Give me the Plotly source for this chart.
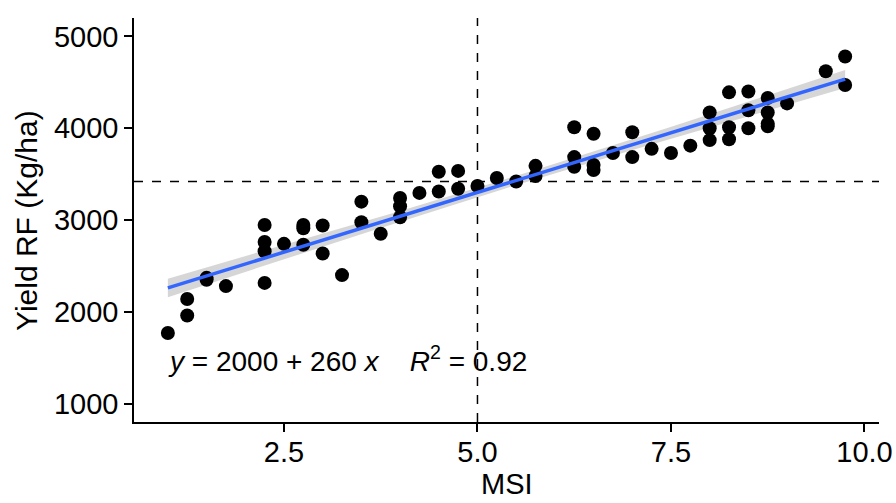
import numpy as np
import plotly.graph_objects as go

# MSI score and rain-fed yield (Kg/ha) per genotype
msi = [1, 1.25, 1.25, 1.5, 1.5, 1.75,
       2.25, 2.25, 2.25, 2.25, 2.5, 2.75, 2.75, 2.75, 3, 3, 3.25,
       3.5, 3.5, 3.75, 4, 4, 4, 4.25, 4.5, 4.5, 4.75, 4.75,
       5, 5.25, 5.5, 5.75, 5.75, 6.25, 6.25, 6.25, 6.5, 6.5, 6.5,
       6.75, 7, 7, 7.25, 7.5, 7.75, 8, 8, 8, 8.25, 8.25, 8.25,
       8.5, 8.5, 8.5, 8.75, 8.75, 8.75, 8.75, 9, 9.5, 9.75, 9.75]
yield_rf = [1770, 2140, 1960, 2370, 2350, 2280,
            2946, 2760, 2660, 2315, 2740, 2946, 2910, 2730, 2940, 2635, 2400,
            3200, 2975, 2850, 3240, 3150, 3030, 3295, 3525, 3310, 3535, 3340,
            3370, 3457, 3420, 3590, 3480, 4010, 3685, 3580, 3940, 3600, 3545,
            3730, 3955, 3685, 3775, 3730, 3810, 4170, 4000, 3870, 4390, 4010, 3880,
            4400, 4195, 4000, 4330, 4170, 4050, 4020, 4270, 4620, 4780, 4470]

# Fitted linear model as reported in the equation label
intercept = 2000
slope = 260
r_squared = 0.92

# Reference lines: MSI threshold and mean yield
msi_ref = 5.0
yield_ref = 3420

x = np.array(msi, dtype=float)
y = np.array(yield_rf, dtype=float)
n = len(x)

# 95% confidence band around the regression line
xs = np.linspace(x.min(), x.max(), 80)
ys = intercept + slope * xs
resid = y - (intercept + slope * x)
s = np.sqrt(np.sum(resid ** 2) / (n - 2))
sxx = np.sum((x - x.mean()) ** 2)
se = s * np.sqrt(1.0 / n + (xs - x.mean()) ** 2 / sxx)
t_crit = 2.0
upper = ys + t_crit * se
lower = ys - t_crit * se

FONT = "Liberation Sans, Arial, sans-serif"

fig = go.Figure()

fig.add_trace(go.Scatter(
    x=np.concatenate([xs, xs[::-1]]),
    y=np.concatenate([upper, lower[::-1]]),
    fill="toself", fillcolor="rgba(153,153,153,0.4)",
    line=dict(width=0), hoverinfo="skip", showlegend=False,
))

fig.add_trace(go.Scatter(
    x=msi, y=yield_rf, mode="markers",
    marker=dict(color="black", size=14),
    showlegend=False,
))

fig.add_trace(go.Scatter(
    x=xs, y=ys, mode="lines",
    line=dict(color="#3366FF", width=3.5),
    showlegend=False,
))

dash_line = dict(color="black", width=1.5, dash="dash")
fig.add_shape(type="line", xref="x", yref="paper", x0=msi_ref, x1=msi_ref,
              y0=0, y1=1, line=dash_line, layer="below")
fig.add_shape(type="line", xref="paper", yref="y", x0=0, x1=1,
              y0=yield_ref, y1=yield_ref, line=dash_line, layer="below")

# Regression equation and fit quality
fig.add_annotation(
    x=0.043, y=0.155, xref="paper", yref="paper",
    xanchor="left", yanchor="middle", showarrow=False,
    text=(f"<i>y</i> = {intercept} + {slope} <i>x</i>&nbsp;&nbsp;&nbsp;&nbsp;"
          f"<i>R</i><sup>2</sup> = {r_squared:.2f}"),
    font=dict(family=FONT, size=28, color="black"),
)

# Axis titles
fig.add_annotation(
    x=0.5, y=-0.198, xref="paper", yref="paper",
    xanchor="center", yanchor="bottom", showarrow=False,
    text="MSI", font=dict(family=FONT, size=29, color="black"),
)
fig.add_annotation(
    x=-0.145, y=0.5, xref="paper", yref="paper",
    xanchor="center", yanchor="middle", showarrow=False, textangle=-90,
    text="Yield RF (Kg/ha)", font=dict(family=FONT, size=30, color="black"),
)

axis_common = dict(
    showline=True, linecolor="black", linewidth=1.5,
    ticks="outside", ticklen=8, tickwidth=1.5, tickcolor="black",
    showgrid=False, zeroline=False, automargin=False,
    tickfont=dict(family=FONT, size=29, color="black"),
)

fig.update_layout(
    width=896, height=503,
    margin=dict(l=134, r=17, t=18, b=81),
    paper_bgcolor="white", plot_bgcolor="white",
    font=dict(family=FONT, color="black"),
    xaxis=dict(
        range=[0.5625, 10.1875],
        tickvals=[2.5, 5.0, 7.5, 10.0],
        ticktext=["2.5", "5.0", "7.5", "10.0"],
        ticklabelstandoff=-5,
        **axis_common,
    ),
    yaxis=dict(
        range=[800, 5200],
        tickvals=[1000, 2000, 3000, 4000, 5000],
        **axis_common,
    ),
)

fig.write_html("out.html")
